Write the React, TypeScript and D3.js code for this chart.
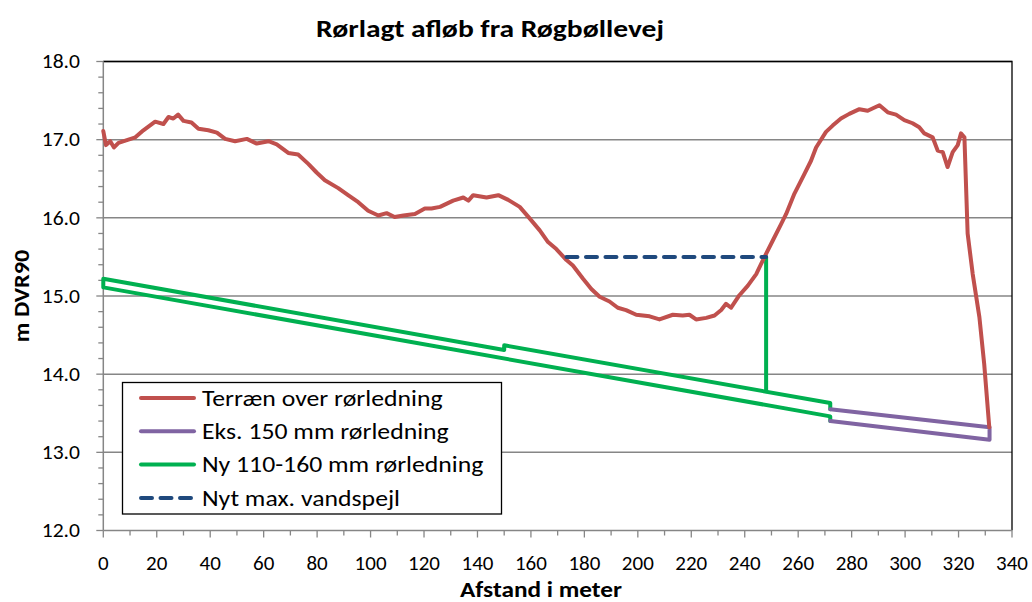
import React, { useRef, useEffect } from 'react';
import * as d3 from 'd3';

// terrain profile (distance m, level m DVR90)
const terrainX = [0, 1, 2.6, 4, 5.7, 9.4, 12, 15, 19.4, 22.5, 24.4, 26.2, 28, 30, 33, 35.6, 39.3, 42.5, 45.6, 49.3, 53.7, 57.4, 61.8, 64.9, 69.2, 72.9, 76.7, 79.8, 82.9, 87.9, 91.6, 95.4, 99.1, 102.9, 106, 109, 112.3, 116.6, 120.3, 122.8, 126, 130.9, 134.7, 136.6, 138.4, 143.4, 147.8, 151.5, 155.8, 159.6, 163.3, 166.4, 169.5, 173.3, 175.7, 179.5, 182.6, 185.7, 189.4, 192.5, 195.6, 199.4, 204.4, 208.1, 213.1, 216.8, 219.3, 221.8, 225.6, 228.7, 231.2, 233, 234.9, 238, 241.1, 244.3, 247.4, 250.5, 253.6, 255.5, 258.6, 262.3, 264.8, 266.7, 270.4, 272.9, 276, 279.1, 282.9, 286, 290.4, 293.5, 296.6, 299.7, 302.8, 305.3, 307.2, 310.3, 312.2, 314.1, 315.9, 317.8, 319.7, 320.9, 322.2, 323.4, 325.3, 327.8, 329.6, 331.5];
const terrainY = [17.11, 16.93, 16.98, 16.9, 16.96, 17.0, 17.03, 17.12, 17.23, 17.2, 17.29, 17.27, 17.32, 17.24, 17.22, 17.14, 17.12, 17.09, 17.01, 16.98, 17.01, 16.95, 16.98, 16.94, 16.83, 16.81, 16.69, 16.58, 16.48, 16.38, 16.29, 16.2, 16.09, 16.03, 16.06, 16.01, 16.03, 16.05, 16.12, 16.12, 16.14, 16.22, 16.26, 16.22, 16.29, 16.26, 16.29, 16.23, 16.14, 15.99, 15.84, 15.69, 15.6, 15.46, 15.39, 15.22, 15.09, 14.99, 14.93, 14.85, 14.82, 14.76, 14.74, 14.7, 14.76, 14.75, 14.76, 14.7, 14.72, 14.75, 14.82, 14.9, 14.85, 15.01, 15.13, 15.28, 15.5, 15.71, 15.92, 16.05, 16.31, 16.56, 16.73, 16.9, 17.1, 17.18, 17.27, 17.33, 17.39, 17.37, 17.44, 17.35, 17.32, 17.25, 17.21, 17.16, 17.08, 17.03, 16.86, 16.84, 16.65, 16.84, 16.93, 17.08, 17.03, 15.8, 15.28, 14.73, 14.13, 13.32];

// existing 150 mm pipe (top and bottom outline)
const existingX = [272, 331.6, 331.6, 272];
const existingY = [13.55, 13.32, 13.16, 13.4];

// new 110-160 mm pipe outline
const newPipeX = [272, 272, 0, 0, 150, 150, 272, 272];
const newPipeY = [13.4, 13.46, 15.11, 15.22, 14.31, 14.37, 13.63, 13.55];
const riserX = [248, 248];
const riserY = [13.78, 15.5];

// new max water level
const waterX = [173.3, 248];
const waterY = [15.5, 15.5];

const seriesNames = ['Terræn over rørledning', 'Eks. 150 mm rørledning', 'Ny 110-160 mm rørledning', 'Nyt max. vandspejl'];
const seriesColors = ['#C0504D', '#8064A2', '#00B050', '#1F497D'];

const xTicks = d3.range(0, 341, 20);
const yTicks = d3.range(12, 18.01, 1);

const FONT = "Carlito, Lato, 'Open Sans', sans-serif";

const App = () => {
  const ref = useRef<HTMLDivElement>(null);

  useEffect(() => {
    if (!ref.current) return;
    d3.select(ref.current).selectAll('*').remove();

    const width = 1032;
    const height = 602;
    const svg = d3.select(ref.current)
      .append('svg')
        .attr('width', width)
        .attr('height', height)
        .style('display', 'block')
        .style('font-family', FONT);

    const x = d3.scaleLinear().domain([0, 340]).range([103.3, 1012]);
    const y = d3.scaleLinear().domain([12, 18]).range([530.5, 61.5]);

    const grid = '#868686';

    // gridlines
    svg.append('g').selectAll('line')
      .data(yTicks.slice(1))
      .join('line')
        .attr('x1', x(0)).attr('x2', x(340))
        .attr('y1', d => y(d)).attr('y2', d => y(d))
        .attr('stroke', grid).attr('stroke-width', 1.5);

    // plot border top/right
    svg.append('path')
      .attr('d', `M${x(0)},${y(18)}H${x(340)}V${y(12)}`)
      .attr('fill', 'none').attr('stroke', '#000').attr('stroke-width', 1.3);

    // y axis with minor ticks
    const yAxis = svg.append('g');
    yAxis.append('line')
      .attr('x1', x(0)).attr('x2', x(0)).attr('y1', y(18)).attr('y2', y(12))
      .attr('stroke', grid).attr('stroke-width', 1.5);
    yAxis.selectAll('line.minor')
      .data(d3.range(12, 18.001, 0.2))
      .join('line')
        .attr('class', 'minor')
        .attr('x1', d => (Math.abs(d - Math.round(d)) < 1e-6 ? x(0) - 7 : x(0) - 5))
        .attr('x2', x(0))
        .attr('y1', d => y(d)).attr('y2', d => y(d))
        .attr('stroke', grid).attr('stroke-width', 1.3);
    yAxis.selectAll('text')
      .data(yTicks)
      .join('text')
        .attr('transform', d => `translate(80,${y(d)}) scale(1.08,1)`)
        .attr('text-anchor', 'end').attr('dominant-baseline', 'central')
        .attr('font-size', 20)
        .text(d => d.toFixed(1));

    // x axis with minor ticks
    const xAxis = svg.append('g');
    xAxis.append('line')
      .attr('x1', x(0)).attr('x2', x(340)).attr('y1', y(12)).attr('y2', y(12))
      .attr('stroke', grid).attr('stroke-width', 1.5);
    xAxis.selectAll('line.minor')
      .data(d3.range(0, 341, 10))
      .join('line')
        .attr('class', 'minor')
        .attr('x1', d => x(d)).attr('x2', d => x(d))
        .attr('y1', y(12))
        .attr('y2', d => (d % 20 === 0 ? y(12) + 7 : y(12) + 5))
        .attr('stroke', grid).attr('stroke-width', 1.3);
    xAxis.selectAll('text')
      .data(xTicks)
      .join('text')
        .attr('x', d => x(d)).attr('y', 570)
        .attr('text-anchor', 'middle')
        .attr('font-size', 21)
        .text(d => d);

    const line = d3.line<[number, number]>().x(d => x(d[0])).y(d => y(d[1]));
    const zip = (xs: number[], ys: number[]) => xs.map((v, i) => [v, ys[i]] as [number, number]);

    const drawLine = (pts: [number, number][], color: string, dash?: string) => {
      svg.append('path')
        .datum(pts)
        .attr('d', line)
        .attr('fill', 'none')
        .attr('stroke', color)
        .attr('stroke-width', 4)
        .attr('stroke-linejoin', 'round')
        .attr('stroke-linecap', 'round')
        .attr('stroke-dasharray', dash ?? null);
    };

    drawLine(zip(newPipeX, newPipeY), seriesColors[2]);
    drawLine(zip(riserX, riserY), seriesColors[2]);
    drawLine(zip(existingX, existingY), seriesColors[1]);
    drawLine(zip(terrainX, terrainY), seriesColors[0]);
    drawLine(zip(waterX, waterY), seriesColors[3], '11 8.5');

    // legend
    const lg = svg.append('g');
    lg.append('rect')
      .attr('x', 122.5).attr('y', 382.5).attr('width', 379).attr('height', 131.5)
      .attr('fill', '#fff').attr('stroke', '#000').attr('stroke-width', 1.3);
    seriesNames.forEach((name, i) => {
      const cy = 398 + i * 33.3;
      lg.append('line')
        .attr('x1', 141).attr('x2', 194).attr('y1', cy).attr('y2', cy)
        .attr('stroke', seriesColors[i]).attr('stroke-width', 4)
        .attr('stroke-linecap', 'round')
        .attr('stroke-dasharray', i === 3 ? '11 8.5' : null);
      lg.append('text')
        .attr('transform', `translate(202,${cy}) scale(1.17,1)`)
        .attr('dominant-baseline', 'central')
        .attr('font-size', 22)
        .text(name);
    });

    // titles
    svg.append('text')
      .attr('transform', 'translate(490,37) scale(1.18,1)')
      .attr('text-anchor', 'middle')
      .attr('font-size', 25).attr('font-weight', 'bold')
      .text('Rørlagt afløb fra Røgbøllevej');

    svg.append('text')
      .attr('transform', 'translate(541,597) scale(1.15,1)')
      .attr('text-anchor', 'middle')
      .attr('font-size', 22).attr('font-weight', 'bold')
      .text('Afstand i meter');

    svg.append('text')
      .attr('transform', 'translate(21,296) rotate(-90) scale(1.1,1)')
      .attr('text-anchor', 'middle').attr('dominant-baseline', 'central')
      .attr('font-size', 22).attr('font-weight', 'bold')
      .text('m DVR90');
  }, []);

  return <div ref={ref} style={{ position: 'absolute', left: 0, top: 0 }} />;
};

export default App;
